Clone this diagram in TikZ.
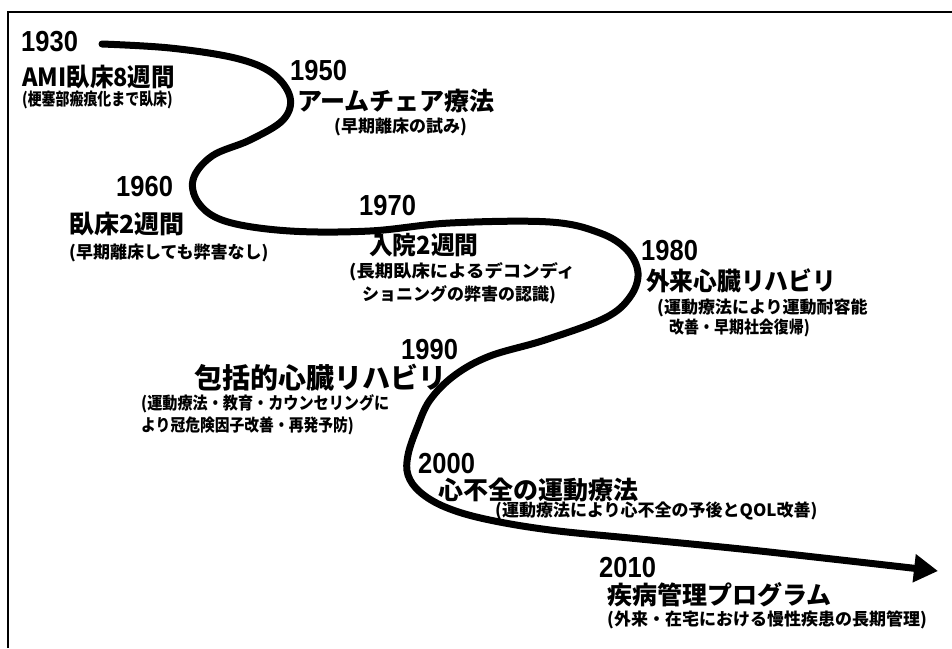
\documentclass[tikz,border=0pt]{standalone}
\usepackage{fontspec}
\usepackage{graphicx}
\usetikzlibrary{arrows.meta}
\newfontfamily\jp{Noto Sans CJK JP}
\newfontfamily\yr{Liberation Sans}[FakeStretch=0.88]
\tikzset{
  yeartext/.style={font=\yr\bfseries\fontsize{29}{29}\selectfont, anchor=west, inner sep=0pt},
  ttl/.style={font=\jp\bfseries\fontsize{25}{25}\selectfont, anchor=west, inner sep=0pt},
  ttlbig/.style={font=\jp\bfseries\fontsize{28}{28}\selectfont, anchor=west, inner sep=0pt},
  sub/.style={font=\jp\bfseries\fontsize{17}{17}\selectfont, anchor=west, inner sep=0pt},
  timeline/.style={line width=7pt, line cap=round, -{Triangle[length=24pt,width=27pt]}},
  frameline/.style={line width=2pt}
}
\begin{document}
\begin{tikzpicture}[x=1pt,y=-1pt]
\useasboundingbox (0,0) rectangle (952,648);
\fill[white] (0,0) rectangle (952,648);
% frame
\coordinate (fbl) at (8,648);
\coordinate (ftl) at (8,12);
\coordinate (ftr) at (952,12);
\draw[frameline] (fbl) -- (ftl) -- (ftr);
% timeline curve
\draw[timeline] plot[smooth, tension=0.6] coordinates {
 (102,44) (170,48) (235,58) (272,73) (290,97) (283,120) (250,140) (212,156)
 (193,180) (200,205) (228,222) (290,231) (370,231) (450,223) (550,222)
 (600,233) (627,250) (638,273) (630,297) (605,318) (545,340) (490,356)
 (455,375) (430,400) (417,428) (408,455) (408,475) (420,492) (445,507)
 (485,519) (550,530) (640,539) (760,551) (938,571)};
% texts
\node[yeartext] (y1930) at (21,42) {1930};
\node[ttl] (t1930) at (22,77) {\scalebox{0.94}[1]{AMI臥床8週間}};
\node[sub] (s1930) at (22,100) {\scalebox{0.82}[1]{(梗塞部瘢痕化まで臥床)}};

\node[yeartext] (y1950) at (290,71) {1950};
\node[ttl] (t1950) at (297,101) {アームチェア療法};
\node[sub] (s1950) at (334,127) {(早期離床の試み)};

\node[yeartext] (y1960) at (116,187) {1960};
\node[ttl] (t1960) at (69,224) {臥床2週間};
\node[sub] (s1960) at (69,253) {(早期離床しても弊害なし)};

\node[yeartext] (y1970) at (359,206) {1970};
\node[ttl] (t1970) at (369,245) {\scalebox{0.95}[1]{入院2週間}};
\node[sub] (s1970a) at (349,272) {\scalebox{1.08}[1]{(長期臥床によるデコンディ}};
\node[sub] (s1970b) at (362,295) {ショニングの弊害の認識)};

\node[yeartext] (y1980) at (641,251) {1980};
\node[ttl] (t1980) at (646,281) {\scalebox{0.95}[1]{外来心臓リハビリ}};
\node[sub] (s1980a) at (657,308) {(運動療法により運動耐容能};
\node[sub] (s1980b) at (669,328) {\scalebox{0.88}[1]{改善・早期社会復帰)}};

\node[yeartext] (y1990) at (401,350) {1990};
\node[ttlbig] (t1990) at (194,378) {包括的心臓リハビリ};
\node[sub] (s1990a) at (141,404) {\scalebox{0.89}[1]{(運動療法・教育・カウンセリングに}};
\node[sub] (s1990b) at (141,426) {\scalebox{0.87}[1]{より冠危険因子改善・再発予防)}};

\node[yeartext] (y2000) at (418,464) {2000};
\node[ttl] (t2000) at (438,490) {心不全の運動療法};
\node[sub] (s2000) at (495,511) {(運動療法により心不全の予後とQOL改善)};

\node[yeartext] (y2010) at (599,568) {2010};
\node[ttl] (t2010) at (607,595) {疾病管理プログラム};
\node[sub] (s2010) at (607,620) {(外来・在宅における慢性疾患の長期管理)};
\end{tikzpicture}
\end{document}
